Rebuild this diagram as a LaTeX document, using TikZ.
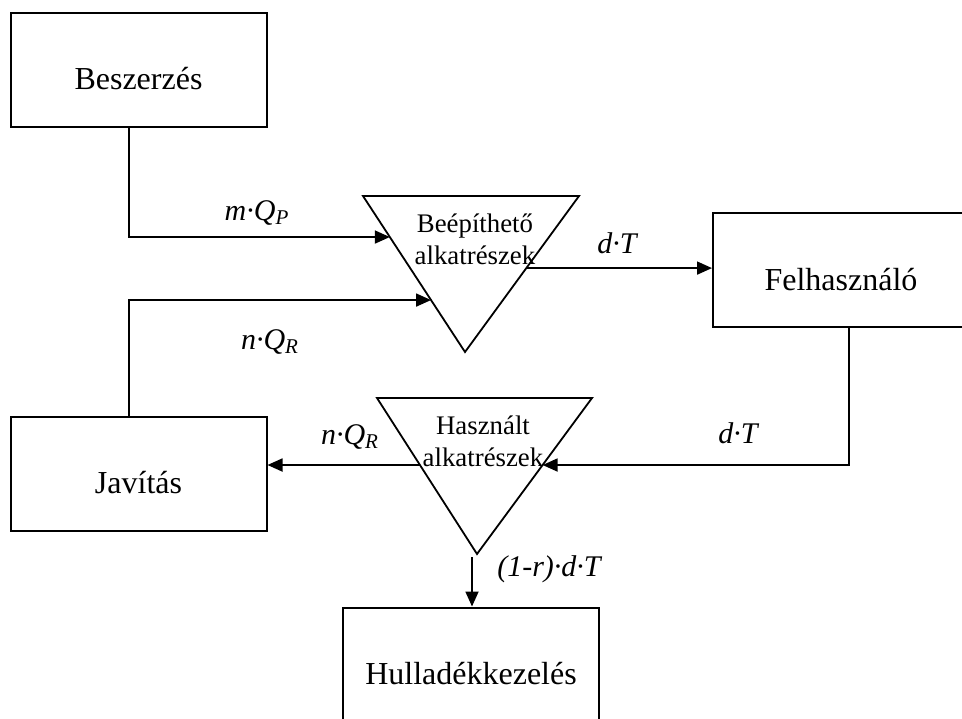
\documentclass[tikz,border=0pt]{standalone}
\usepackage{fontspec}
\setmainfont{Liberation Serif}
\usetikzlibrary{arrows.meta, calc}

\begin{document}
\begin{tikzpicture}[
        x=0.5pt, y=-0.5pt,
        box/.style={rectangle, draw, line width=1pt, minimum width=128pt, minimum height=57pt, text height=22pt, text depth=2pt, font=\fontsize{16}{19}\selectfont},
        stock/.style={align=center, inner sep=0pt, font=\fontsize{13.4}{16}\selectfont},
        flow/.style={inner sep=0pt, font=\fontsize{15}{18}\selectfont\itshape},
        arrow/.style={draw, line width=0.9pt, -{Triangle[length=7.5pt, width=6.5pt]}}
    ]
    \useasboundingbox (0,0) rectangle (962,718);
    \clip (0,0) rectangle (962,718);

    \node[box] (purchase) at (138.5,69.5) {Beszerzés};
    \node[box] (repair) at (138.5,473.5) {Javítás};
    \node[box] (user) at (841,270) {Felhasználó};
    \node[box] (waste) at (471,664.5) {Hulladékkezelés};

    % stock triangles
    \coordinate (parts-l) at (363,196);
    \coordinate (parts-r) at (579,196);
    \coordinate (parts-a) at (465,352);
    \draw[line width=0.9pt] (parts-l) -- (parts-r) -- (parts-a) -- cycle;
    \node[stock] (parts) at (475,239) {Beépíthető\\alkatrészek};

    \coordinate (used-l) at (377,398);
    \coordinate (used-r) at (592,398);
    \coordinate (used-a) at (477,554);
    \draw[line width=0.9pt] (used-l) -- (used-r) -- (used-a) -- cycle;
    \node[stock] (used) at (483,441) {Használt\\alkatrészek};

    % flows
    \coordinate (in-new) at ($(parts-l)!0.263!(parts-a)$);
    \coordinate (in-rep) at ($(parts-l)!0.667!(parts-a)$);
    \coordinate (out-new) at ($(parts-r)!0.462!(parts-a)$);
    \coordinate (in-used) at ($(used-r)!0.4295!(used-a)$);
    \coordinate (out-rep) at ($(used-l)!0.4295!(used-a)$);
    \coordinate (out-waste) at ($(used-a)+(-5,3)$);

    \draw[arrow] ([xshift=-4.75pt]purchase.south) |- (in-new);
    \draw[arrow] ([xshift=-4.75pt]repair.north) |- (in-rep);
    \draw[arrow] (out-new) -- (out-new -| user.west);
    \draw[arrow] ([xshift=4pt]user.south) |- (in-used);
    \draw[arrow] (out-rep) -- (out-rep -| repair.east);
    \draw[arrow] (out-waste) -- (out-waste |- waste.north);

    \node[flow] (mqp) at (257,213) {m·Q\textsubscript{P}};
    \node[flow] (nqr-up) at (270,342) {n·Q\textsubscript{R}};
    \node[flow] (dt-up) at (617,243) {d·T};
    \node[flow] (dt-down) at (738,433) {d·T};
    \node[flow] (nqr-down) at (350,437) {n·Q\textsubscript{R}};
    \node[flow] (waste-flow) at (549,569) {(1-r)·d·T};

\end{tikzpicture}
\end{document}
